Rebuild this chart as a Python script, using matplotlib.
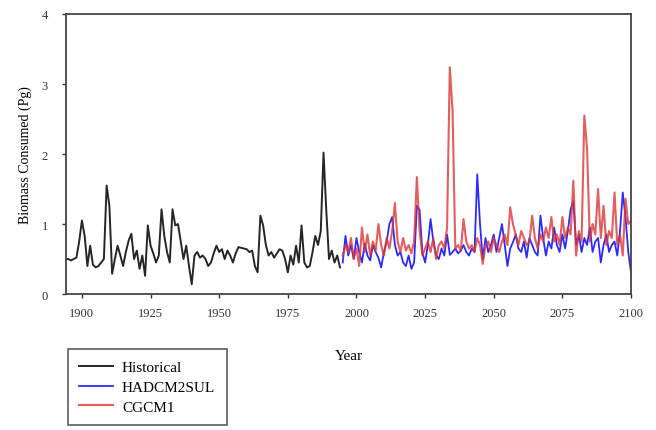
import matplotlib
matplotlib.use("Agg")
import matplotlib.pyplot as plt
import numpy as np

plt.rcParams['font.family'] = ['Liberation Serif', 'DejaVu Serif']

hist_years = list(range(1894, 1995))
hist_vals = [0.50, 0.50, 0.48, 0.50, 0.52, 0.75, 1.05, 0.83, 0.40, 0.69,
             0.42, 0.38, 0.40, 0.45, 0.50, 1.55, 1.26, 0.29, 0.50, 0.69,
             0.55, 0.40, 0.60, 0.76, 0.86, 0.50, 0.62, 0.36, 0.55, 0.26,
             0.98, 0.69, 0.58, 0.45, 0.55, 1.21, 0.83, 0.60, 0.45, 1.21,
             0.98, 1.00, 0.75, 0.50, 0.69, 0.40, 0.14, 0.55, 0.60, 0.52,
             0.55, 0.50, 0.40, 0.45, 0.58, 0.69, 0.60, 0.64, 0.50, 0.62,
             0.55, 0.45, 0.58, 0.67, 0.66, 0.65, 0.64, 0.60, 0.62, 0.40,
             0.31, 1.12, 0.98, 0.70, 0.55, 0.60, 0.52, 0.58, 0.64, 0.62,
             0.50, 0.31, 0.55, 0.42, 0.69, 0.45, 0.98, 0.45, 0.38, 0.40,
             0.60, 0.83, 0.70, 0.90, 2.02, 1.20, 0.50, 0.62, 0.45, 0.55,
             0.38]

proj_years = list(range(1995, 2101))
hadcm_vals = [0.45, 0.83, 0.55, 0.70, 0.50, 0.80, 0.60, 0.45, 0.72, 0.55,
              0.48, 0.70, 0.60, 0.52, 0.38, 0.60, 0.75, 1.00, 1.10, 0.70,
              0.55, 0.60, 0.45, 0.40, 0.55, 0.36, 0.45, 1.26, 1.20, 0.60,
              0.45, 0.70, 1.07, 0.75, 0.55, 0.50, 0.65, 0.55, 0.85, 0.56,
              0.60, 0.65, 0.58, 0.62, 0.70, 0.60, 0.55, 0.65, 0.60, 1.71,
              1.00, 0.50, 0.80, 0.60, 0.70, 0.85, 0.60, 0.80, 1.00, 0.70,
              0.40, 0.65, 0.74, 0.85, 0.65, 0.60, 0.75, 0.52, 0.80, 0.70,
              0.60, 0.55, 1.12, 0.80, 0.55, 0.75, 0.65, 0.95, 0.70, 0.60,
              0.85, 0.65, 0.90, 1.21, 1.33, 0.70, 0.85, 0.60, 0.80, 0.70,
              0.95, 0.60, 0.75, 0.80, 0.45, 0.70, 0.85, 0.60, 0.70, 0.75,
              0.55, 0.90, 1.45, 1.10, 0.60, 0.31]
cgcm_vals = [0.55, 0.70, 0.60, 0.80, 0.50, 0.65, 0.40, 0.95, 0.60, 0.85,
             0.55, 0.75, 0.62, 1.00, 0.70, 0.55, 0.80, 0.65, 0.90, 1.30,
             0.75, 0.60, 0.80, 0.62, 0.70, 0.58, 0.75, 1.67, 0.90, 0.55,
             0.65, 0.75, 0.60, 0.80, 0.50, 0.70, 0.75, 0.65, 0.95, 3.24,
             2.62, 0.65, 0.70, 0.62, 1.07, 0.75, 0.65, 0.70, 0.60, 0.80,
             0.70, 0.43, 0.70, 0.75, 0.60, 0.80, 0.70, 0.60, 0.75, 0.85,
             0.70, 1.24, 1.00, 0.85, 0.70, 0.90, 0.80, 0.70, 0.75, 1.12,
             0.80, 0.65, 0.85, 0.75, 0.95, 0.80, 1.10, 0.75, 0.85, 0.70,
             1.10, 0.80, 0.95, 0.85, 1.62, 0.55, 0.90, 0.75, 2.55, 2.07,
             0.75, 1.00, 0.85, 1.50, 0.80, 1.26, 0.70, 0.90, 0.80, 1.45,
             0.70, 0.85, 0.55, 1.36, 1.00, 1.05]

x_ticks = [1900, 1925, 1950, 1975, 2000, 2025, 2050, 2075, 2100]
y_ticks = [0, 1, 2, 3, 4]

fig = plt.figure(figsize=(6.56, 4.31), dpi=100)
ax = fig.add_axes([0.1006, 0.3155, 0.8613, 0.6497])

l1, = ax.plot(hist_years, hist_vals, color='#262626', lw=1.4, label='Historical')
l2, = ax.plot(proj_years, hadcm_vals, color='#2b2bff', lw=1.3, label='HADCM2SUL')
l3, = ax.plot(proj_years, cgcm_vals, color='#e03535', lw=1.5, alpha=0.8, label='CGCM1')

ax.set_xlim(1894.2, 2100)
ax.set_ylim(0, 4)
ax.set_xticks(x_ticks)
ax.set_xticklabels([str(t) for t in x_ticks])
ax.set_yticks(y_ticks)
ax.tick_params(axis='both', direction='out', length=3, width=1, labelsize=9, colors='#333333')
ax.tick_params(axis='x', pad=6)
ax.tick_params(axis='y', pad=10)
for s in ax.spines.values():
    s.set_linewidth(1.3)
    s.set_color('#444444')

ax.set_xlabel('Year', fontsize=11, labelpad=22)
ax.set_ylabel('Biomass Consumed (Pg)', fontsize=10, labelpad=7)

leg = fig.legend(handles=[l1, l2, l3], loc='upper left', bbox_to_anchor=(0.1032, 0.188),
                 fontsize=11, frameon=True, fancybox=False, edgecolor='#333333',
                 handlelength=2.2, handletextpad=0.6, borderpad=0.75, labelspacing=0.4,
                 borderaxespad=0)
leg.get_frame().set_linewidth(1.2)

fig.savefig('out.png', dpi=100)
